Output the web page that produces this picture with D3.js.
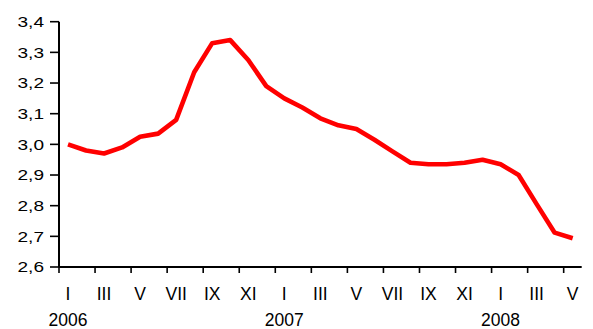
<!DOCTYPE html>
<html>
<head>
<meta charset="utf-8">
<script src="https://cdn.jsdelivr.net/npm/d3@7"></script>
<style>
  html, body { margin: 0; padding: 0; background: #fff; }
  svg { display: block; }
  text { font-family: "Liberation Sans", Arial, sans-serif; fill: #000; }
</style>
</head>
<body>
<svg id="chart" width="593" height="329"></svg>
<script>
// Months Jan 2006 .. May 2008
const months = ["I","II","III","IV","V","VI","VII","VIII","IX","X","XI","XII",
                "I","II","III","IV","V","VI","VII","VIII","IX","X","XI","XII",
                "I","II","III","IV","V"];
const values = [3.00, 2.98, 2.97, 2.99, 3.025, 3.035, 3.08, 3.235, 3.33, 3.34, 3.275, 3.19,
                3.15, 3.12, 3.085, 3.062, 3.05, 3.015, 2.977, 2.94, 2.935, 2.935, 2.94, 2.95,
                2.935, 2.90, 2.805, 2.712, 2.694];
const years = [{year: "2006", index: 0}, {year: "2007", index: 12}, {year: "2008", index: 24}];
const yTicks = [2.6, 2.7, 2.8, 2.9, 3.0, 3.1, 3.2, 3.3, 3.4];

const svg = d3.select("#chart");
const mLeft = 59, mRight = 581.7, mTop = 21.7, mBottom = 267;

const idx = d3.range(months.length);
const x = d3.scaleBand().domain(idx).range([mLeft, mRight]).padding(0);
const y = d3.scaleLinear().domain([2.6, 3.4]).range([mBottom, mTop]);
const fmt = v => d3.format(".1f")(v).replace(".", ",");

// Y axis
svg.append("line").attr("x1", mLeft).attr("x2", mLeft).attr("y1", y(3.4)).attr("y2", mBottom)
  .attr("stroke", "#000").attr("stroke-width", 2);
yTicks.forEach(t => {
  svg.append("line").attr("x1", mLeft - 9).attr("x2", mLeft).attr("y1", y(t)).attr("y2", y(t))
    .attr("stroke", "#000").attr("stroke-width", 1.6);
  svg.append("text")
    .attr("transform", `translate(44,${y(t)}) scale(1.27,1)`)
    .attr("text-anchor", "end").attr("dy", "0.36em")
    .style("font-size", "15px")
    .text(fmt(t));
});

// X axis
svg.append("line").attr("x1", mLeft).attr("x2", mRight).attr("y1", mBottom).attr("y2", mBottom)
  .attr("stroke", "#000").attr("stroke-width", 2);
idx.filter(i => i % 2 === 0).forEach(i => {
  svg.append("line").attr("x1", x(i)).attr("x2", x(i)).attr("y1", mBottom).attr("y2", mBottom + 6)
    .attr("stroke", "#000").attr("stroke-width", 1.6);
  svg.append("text")
    .attr("x", x(i) + x.bandwidth() / 2).attr("y", 300)
    .attr("text-anchor", "middle")
    .style("font-size", "17.5px")
    .text(months[i]);
});
years.forEach(d => {
  svg.append("text")
    .attr("x", x(d.index) + x.bandwidth() / 2).attr("y", 326)
    .attr("text-anchor", "middle")
    .style("font-size", "17.5px")
    .text(d.year);
});

// Line
const line = d3.line()
  .x((d, i) => x(i) + x.bandwidth() / 2)
  .y(d => y(d));
svg.append("path").datum(values)
  .attr("d", line)
  .attr("fill", "none")
  .attr("stroke", "#ff0000")
  .attr("stroke-width", 4.6)
  .attr("stroke-linejoin", "round");
</script>
</body>
</html>
